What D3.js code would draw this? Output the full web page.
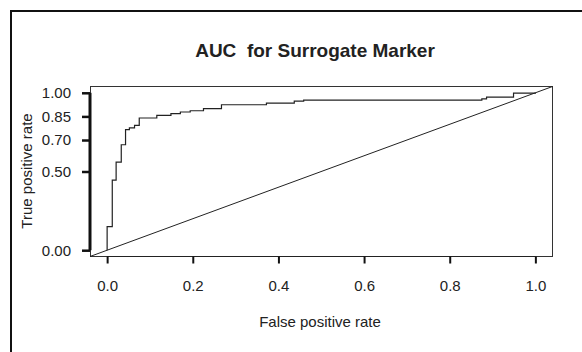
<!DOCTYPE html>
<html><head><meta charset="utf-8">
<script src="https://cdn.jsdelivr.net/npm/d3@7"></script>
<style>body{margin:0;background:#fff}svg{display:block}text{font-family:"Liberation Sans",Arial,sans-serif;fill:#222}</style>
</head><body><svg id="c" width="582" height="352"></svg>
<script>
const title = "AUC  for Surrogate Marker";
const xLabel = "False positive rate";
const yLabel = "True positive rate";
const xTicks = [0, 0.2, 0.4, 0.6, 0.8, 1.0];
const yTicks = [0, 0.5, 0.7, 0.85, 1.0];
const fpr = [0, 0, 0.012, 0.021, 0.033, 0.043, 0.052, 0.064, 0.075, 0.116, 0.149, 0.171, 0.194, 0.225, 0.267, 0.372, 0.437, 0.459, 0.875, 0.886, 0.949, 1.0];
const tpr = [0, 0.15, 0.445, 0.56, 0.67, 0.766, 0.777, 0.793, 0.84, 0.856, 0.868, 0.878, 0.886, 0.90, 0.924, 0.935, 0.947, 0.953, 0.962, 0.973, 0.998, 1.0];

const svg = d3.select("#c");
const box = {l: 90, t: 86.5, r: 552.5, b: 256.5};
const x = d3.scaleLinear().domain([-0.04, 1.04]).range([box.l, box.r]);
const y = d3.scaleLinear().domain([-0.04, 1.04]).range([box.b, box.t]);
const fs = 15;

// outer frame (left and top only visible)
svg.append("path").attr("d", "M11,352V11H582").attr("fill", "none").attr("stroke", "#111").attr("stroke-width", 2);

// plot box
svg.append("rect").attr("x", box.l + 0.5).attr("y", box.t).attr("width", box.r - box.l - 0.5).attr("height", box.b - box.t)
  .attr("fill", "none").attr("stroke", "#333").attr("stroke-width", 1);

// x axis
const xa = svg.append("g").attr("transform", `translate(0,${box.b})`)
  .call(d3.axisBottom(x).tickValues(xTicks).tickFormat(d3.format(".1f")).tickSize(7).tickPadding(17));
xa.select(".domain").attr("stroke", "#222").attr("d", `M${x(0)},0H${x(1)}`);
xa.selectAll(".tick line").attr("stroke", "#111").attr("stroke-width", 2);
xa.selectAll("text").attr("font-size", fs).attr("fill", "#222").attr("font-family", "Liberation Sans, Arial, sans-serif");

// y axis
const ya = svg.append("g").attr("transform", `translate(${box.l},0)`)
  .call(d3.axisLeft(y).tickValues(yTicks).tickFormat(d3.format(".2f")).tickSize(8).tickPadding(11));
ya.select(".domain").attr("stroke", "#111").attr("stroke-width", 3).attr("d", `M0,${y(0)}V${y(1)}`);
ya.selectAll(".tick line").attr("stroke", "#111").attr("stroke-width", 2.5);
ya.selectAll("text").attr("font-size", fs).attr("fill", "#222").attr("font-family", "Liberation Sans, Arial, sans-serif");

// diagonal
svg.append("line").attr("x1", x(-0.04)).attr("y1", y(-0.04)).attr("x2", x(1.04)).attr("y2", y(1.04))
  .attr("stroke", "#222").attr("stroke-width", 1);

// ROC curve
const pts = fpr.map((f, i) => [f, tpr[i]]);
svg.append("path").datum(pts)
  .attr("d", d3.line().x(d => x(d[0])).y(d => y(d[1])).curve(d3.curveStepAfter))
  .attr("fill", "none").attr("stroke", "#222").attr("stroke-width", 1.2);

// titles
svg.append("text").attr("x", 315).attr("y", 57).attr("text-anchor", "middle")
  .attr("font-size", 19).attr("font-weight", "bold").style("white-space", "pre").attr("fill", "#111").text(title);
svg.append("text").attr("x", 320).attr("y", 327).attr("text-anchor", "middle")
  .attr("font-size", fs).text(xLabel);
svg.append("text").attr("transform", `translate(32,171) rotate(-90)`).attr("text-anchor", "middle")
  .attr("font-size", fs).text(yLabel);
</script></body></html>
